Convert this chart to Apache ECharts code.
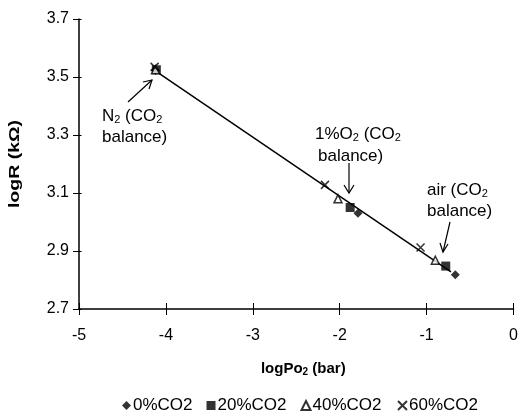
<!DOCTYPE html>
<html><head><meta charset="utf-8">
<script src="https://cdn.jsdelivr.net/npm/echarts@6/dist/echarts.min.js"></script>
<style>html,body{margin:0;padding:0;background:#fff}#c{width:521px;height:411px}</style>
</head><body><div id="c"></div>
<script>
const seriesNames = ['0%CO2','20%CO2','40%CO2','60%CO2'];
const x0 = [-4.12, -1.79, -0.67];  const y0 = [3.522, 3.030, 2.818];
const x20 = [-4.11, -1.88, -0.78]; const y20 = [3.525, 3.050, 2.848];
const x40 = [-4.12, -2.02, -0.90]; const y40 = [3.525, 3.080, 2.868];
const x60 = [-4.13, -2.17, -1.07]; const y60 = [3.535, 3.128, 2.912];
const trendX = [-4.13, -0.72];     const trendY = [3.523, 2.828];
const xTicks = {min: -5, max: 0, interval: 1};
const yTicks = {min: 2.7, max: 3.7, interval: 0.2};

const zip = (a, b) => a.map((v, i) => [v, b[i]]);
const font = 'Liberation Sans, Arial, sans-serif';
const crossPath = 'path://M0,0L10,10M10,0L0,10';
const chart = echarts.init(document.getElementById('c'));
const sub = {s: {fontSize: 11, padding: [8,0,0,0], fontFamily: font, color: '#000'}};
const subB = {s: {fontSize: 10, fontWeight: 'bold', padding: [7,0,0,0], fontFamily: font, color: '#000'}};
const L = 79, R = 517, T = 19, B = 309;
const tick = {length: 6, lineStyle: {color: '#000', width: 1}};
const ann = (text, x, y) => ({type: 'text', style: {text, x, y, verticalAlign: 'middle', font: '17px ' + font, fill: '#000', rich: sub}});
const arrowStyle = {stroke: '#000', lineWidth: 1.2, fill: null};
chart.setOption({
  animation: false,
  backgroundColor: '#fff',
  grid: {left: L, right: 521 - R, top: T, bottom: 411 - B},
  xAxis: [
    {type: 'value', min: xTicks.min, max: xTicks.max, interval: xTicks.interval,
      name: 'logPo{s|2} (bar)', nameLocation: 'middle', nameGap: 51,
      nameTextStyle: {fontFamily: font, fontSize: 15, fontWeight: 'bold', color: '#000', rich: subB, padding: [0, 0, 0, 14]},
      axisLine: {onZero: false, lineStyle: {color: '#000', width: 1.5}}, splitLine: {show: false},
      axisTick: tick,
      axisLabel: {fontFamily: font, fontSize: 16, color: '#000', margin: 19}},
    {type: 'value', min: xTicks.min, max: xTicks.max, interval: xTicks.interval, position: 'top', offset: -(B - T),
      axisLine: {show: false, onZero: false}, splitLine: {show: false}, axisLabel: {show: false}, axisTick: tick}
  ],
  yAxis: [
    {type: 'value', min: yTicks.min, max: yTicks.max, interval: yTicks.interval,
      axisLine: {onZero: false, lineStyle: {color: '#000', width: 1.5}}, splitLine: {show: false},
      axisTick: tick,
      axisLabel: {fontFamily: font, fontSize: 16, color: '#000', margin: 10, formatter: v => v.toFixed(1)}},
    {type: 'value', min: yTicks.min, max: yTicks.max, interval: yTicks.interval, position: 'right', offset: -(R - L),
      axisLine: {show: false, onZero: false}, splitLine: {show: false}, axisLabel: {show: false}, axisTick: tick}
  ],
  legend: {
    top: 392, left: 117, itemGap: 14, itemWidth: 9, itemHeight: 9,
    textStyle: {fontFamily: font, fontSize: 17, color: '#000', padding: [0,0,0,-3]},
    data: seriesNames
  },
  series: [
    {type: 'line', data: zip(trendX, trendY), showSymbol: false, symbol: 'none',
      lineStyle: {color: '#000', width: 1.5}, z: 1, silent: true},
    {name: seriesNames[0], type: 'scatter', data: zip(x0, y0), symbol: 'diamond', symbolSize: 9,
      itemStyle: {color: '#000'}, z: 3},
    {name: seriesNames[1], type: 'scatter', data: zip(x20, y20), symbol: 'rect', symbolSize: 9,
      itemStyle: {color: '#000'}, z: 3},
    {name: seriesNames[2], type: 'scatter', data: zip(x40, y40), symbol: 'triangle', symbolSize: 8,
      itemStyle: {color: '#fff', borderColor: '#000', borderWidth: 1.5}, z: 3},
    {name: seriesNames[3], type: 'scatter', data: zip(x60, y60), symbol: crossPath, symbolSize: 8,
      itemStyle: {color: 'none', borderColor: '#000', borderWidth: 1.5}, z: 3}
  ],
  graphic: [
    {type: 'text', x: 15, y: (T + B) / 2, rotation: Math.PI / 2, scaleX: 1.3,
      style: {text: 'logR (kΩ)', align: 'center', verticalAlign: 'middle', font: 'bold 15px ' + font, fill: '#000'}},
    ann('N{s|2} (CO{s|2}', 102, 116), ann('balance)', 102, 137),
    {type: 'line', shape: {x1: 128, y1: 102, x2: 152, y2: 80}, style: arrowStyle},
    {type: 'polyline', shape: {points: [[143, 82], [152, 80], [149, 89]]}, style: arrowStyle},
    ann('1%O{s|2} (CO{s|2}', 315, 134), ann('balance)', 318, 156),
    {type: 'line', shape: {x1: 349, y1: 163, x2: 349, y2: 193}, style: arrowStyle},
    {type: 'polyline', shape: {points: [[344, 185], [349, 193], [354, 185]]}, style: arrowStyle},
    ann('air (CO{s|2}', 427, 190), ann('balance)', 427, 211),
    {type: 'line', shape: {x1: 450, y1: 222, x2: 443, y2: 252}, style: arrowStyle},
    {type: 'polyline', shape: {points: [[440, 243], [443, 252], [448, 244]]}, style: arrowStyle}
  ]
});
</script>
</body></html>
